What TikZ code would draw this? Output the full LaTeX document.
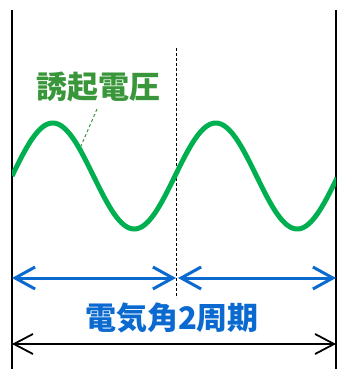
\documentclass[tikz,border=0pt]{standalone}
\usepackage{fontspec}
\newfontfamily\cjk{Noto Sans CJK JP}
\usetikzlibrary{arrows.meta}
\definecolor{wavegreen}{HTML}{00B050}
\definecolor{labelgreen}{HTML}{3A963A}
\definecolor{dimblue}{HTML}{0A6AD0}
\tikzset{
  wave/.style={wavegreen,line width=5pt},
  leader/.style={labelgreen,line width=1pt,dash pattern=on 3pt off 2.5pt},
  guide/.style={black,line width=1.8pt},
  midguide/.style={black,line width=0.7pt,dash pattern=on 3pt off 2pt},
  bluedim/.style={dimblue,line width=3pt,{Straight Barb[length=20pt,width=22pt,line width=3pt]}-{Straight Barb[length=20pt,width=22pt,line width=3pt]}},
  blackdim/.style={black,line width=1.8pt,{Straight Barb[length=19pt,width=20pt,line width=1.8pt]}-{Straight Barb[length=19pt,width=20pt,line width=1.8pt]}},
  labeltext/.style={font=\cjk\bfseries\fontsize{31}{34}\selectfont,inner sep=0pt}
}
\begin{document}
\begin{tikzpicture}[x=1pt,y=-1pt]
\useasboundingbox (0,0) rectangle (337,369);
% guide lines
\coordinate (lt) at (12,10);
\coordinate (lb) at (12,369);
\coordinate (rt) at (336,10);
\coordinate (rb) at (336,369);
\coordinate (mt) at (176,48);
\coordinate (mb) at (176,298);
\draw[guide] (lt) -- (lb);
\draw[guide] (rt) -- (rb);
\draw[midguide] (mt) -- (mb);
% wave
\begin{scope}
\clip (12,0) rectangle (336,369);
\draw[wave] plot[domain=12:337,samples=200,smooth] (\x,{176-53*sin((\x-12)/163*360)});
\end{scope}
% label
\node[labeltext,text=labelgreen] (lbl) at (98,87) {誘起電圧};
\coordinate (ls) at (97,109);
\coordinate (le) at (81,146);
\draw[leader] (ls) -- (le);
% blue dims
\coordinate (b1) at (12,278);
\coordinate (b2) at (176,278);
\coordinate (b3) at (178,278);
\coordinate (b4) at (336,278);
\draw[bluedim] (b1) -- (b2);
\draw[bluedim] (b3) -- (b4);
\node[labeltext,text=dimblue,font=\cjk\bfseries\fontsize{31}{34}\selectfont] (dl) at (172,318) {電気角2周期};
% black dim
\coordinate (k1) at (12,344);
\coordinate (k2) at (336,344);
\draw[blackdim] (k1) -- (k2);
\end{tikzpicture}
\end{document}
